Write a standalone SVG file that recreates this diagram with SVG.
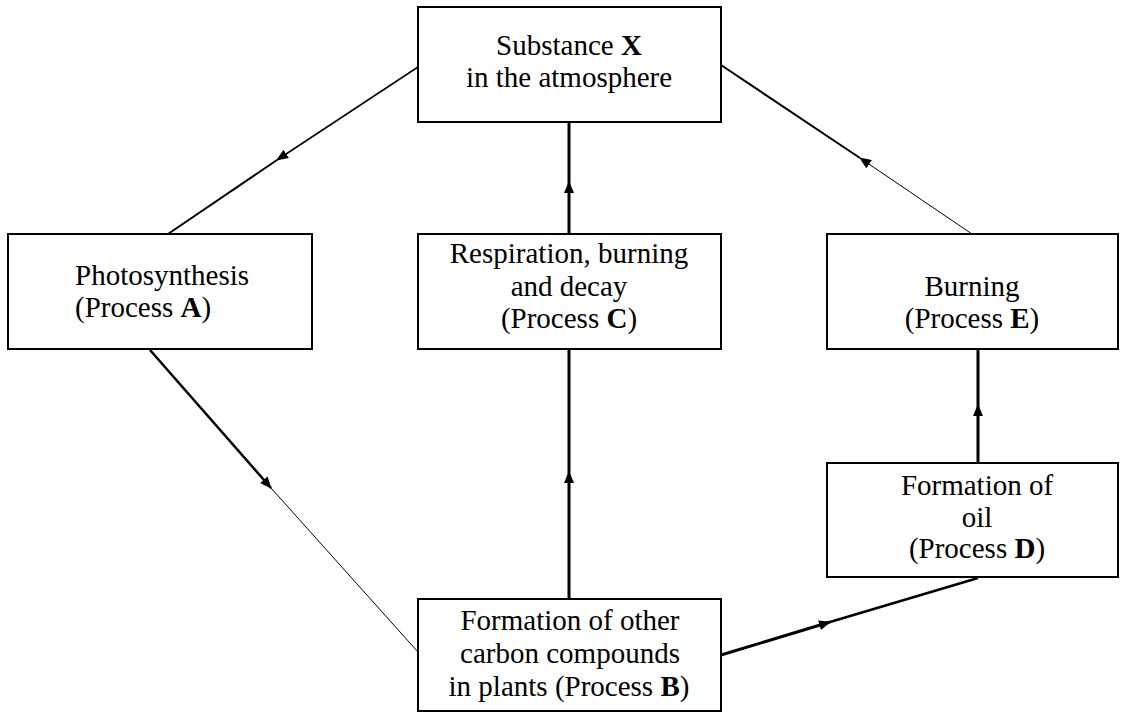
<svg xmlns="http://www.w3.org/2000/svg" width="1126" height="712" viewBox="0 0 1126 712">
<style>
.box{fill:#fff;stroke:#000;stroke-width:2}
.t{font-family:"Liberation Serif","Times New Roman",serif;font-size:29px;fill:#000}
.c{text-anchor:middle}
.b{font-weight:bold}
.ln{stroke:#000;fill:none}
</style>
<defs>
<marker id="ah" markerUnits="userSpaceOnUse" markerWidth="12" markerHeight="10" refX="11" refY="5" orient="auto" viewBox="0 0 12 10">
<path d="M0,0 L12,5 L0,10 z" fill="#000"/>
</marker>
</defs>
<rect width="1126" height="712" fill="#fff"/>
<g id="connectors">
<line class="ln" x1="418" y1="67" x2="277" y2="160" stroke-width="1.5" marker-end="url(#ah)"/>
<line class="ln" x1="277" y1="160" x2="168" y2="234" stroke-width="2"/>
<line class="ln" x1="569" y1="234" x2="569" y2="182" stroke-width="3" marker-end="url(#ah)"/>
<line class="ln" x1="569" y1="182" x2="569" y2="122" stroke-width="3"/>
<line class="ln" x1="972" y1="234" x2="860" y2="158" stroke-width="1" marker-end="url(#ah)"/>
<line class="ln" x1="860" y1="158" x2="721" y2="65" stroke-width="2"/>
<line class="ln" x1="150" y1="350" x2="271" y2="488" stroke-width="2.5" marker-end="url(#ah)"/>
<line class="ln" x1="271" y1="488" x2="418" y2="652" stroke-width="1"/>
<line class="ln" x1="569" y1="599" x2="569" y2="472" stroke-width="3" marker-end="url(#ah)"/>
<line class="ln" x1="569" y1="472" x2="569" y2="349" stroke-width="3"/>
<line class="ln" x1="721" y1="655" x2="830" y2="622" stroke-width="3" marker-end="url(#ah)"/>
<line class="ln" x1="830" y1="622" x2="978" y2="578" stroke-width="2.5"/>
<line class="ln" x1="978" y1="463" x2="978" y2="405" stroke-width="3" marker-end="url(#ah)"/>
<line class="ln" x1="978" y1="405" x2="978" y2="349" stroke-width="3"/>
</g>
<g id="nodeX">
<rect class="box" x="418" y="7" width="303" height="115"/>
<text class="t c" x="569" y="55">Substance <tspan class="b">X</tspan></text>
<text class="t c" x="569" y="87">in the atmosphere</text>
</g>
<g id="nodeA">
<rect class="box" x="8" y="234" width="304" height="115"/>
<text class="t" x="75" y="285">Photosynthesis</text>
<text class="t" x="75" y="317">(Process <tspan class="b">A</tspan>)</text>
</g>
<g id="nodeC">
<rect class="box" x="418" y="234" width="303" height="115"/>
<text class="t c" x="569" y="263">Respiration, burning</text>
<text class="t c" x="569" y="296">and decay</text>
<text class="t c" x="569" y="328">(Process <tspan class="b">C</tspan>)</text>
</g>
<g id="nodeE">
<rect class="box" x="827" y="234" width="291" height="115"/>
<text class="t c" x="972" y="296">Burning</text>
<text class="t c" x="972" y="328">(Process <tspan class="b">E</tspan>)</text>
</g>
<g id="nodeD">
<rect class="box" x="827" y="463" width="291" height="114"/>
<text class="t c" x="977" y="495">Formation of</text>
<text class="t c" x="977" y="527">oil</text>
<text class="t c" x="977" y="558">(Process <tspan class="b">D</tspan>)</text>
</g>
<g id="nodeB">
<rect class="box" x="418" y="599" width="303" height="112"/>
<text class="t c" x="570" y="630">Formation of other</text>
<text class="t c" x="570" y="663">carbon compounds</text>
<text class="t c" x="569" y="696">in plants (Process <tspan class="b">B</tspan>)</text>
</g>
</svg>
